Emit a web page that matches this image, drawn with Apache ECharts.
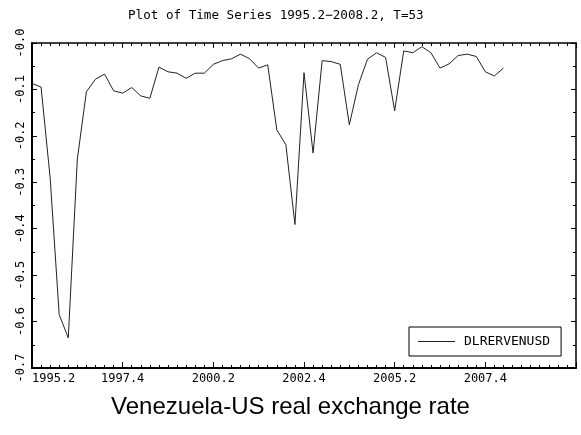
<!DOCTYPE html>
<html>
<head>
<meta charset="utf-8">
<script src="https://cdn.jsdelivr.net/npm/echarts@6/dist/echarts.min.js"></script>
<style>html,body{margin:0;padding:0;background:#fff}#c{width:581px;height:435px}</style>
</head>
<body>
<div id="c"></div>
<script>
// Quarterly series DLRERVENUSD, 1995.2 - 2008.2 (T=53)
const seriesName = 'DLRERVENUSD';
const values = [
  -0.087, -0.095, -0.290, -0.585, -0.635, -0.250, -0.105, -0.078, -0.067, -0.103,
  -0.108, -0.096, -0.114, -0.119, -0.052, -0.062, -0.065, -0.076, -0.065, -0.065,
  -0.046, -0.038, -0.034, -0.024, -0.034, -0.054, -0.047, -0.187, -0.219, -0.391,
  -0.064, -0.237, -0.038, -0.040, -0.046, -0.176, -0.090, -0.035, -0.021, -0.031,
  -0.146, -0.017, -0.021, -0.008, -0.021, -0.054, -0.045, -0.027, -0.024, -0.029,
  -0.062, -0.071, -0.054
];
// labels of every 10th quarter, starting at 1995.2
const xTickLabels = ['1995.2', '1997.4', '2000.2', '2002.4', '2005.2', '2007.4', ''];
const yTickLabels = ['-0.7', '-0.6', '-0.5', '-0.4', '-0.3', '-0.2', '-0.1', '-0.0'];
const titleText = 'Plot of Time Series 1995.2\u22122008.2, T=53';
const captionText = 'Venezuela-US real exchange rate';

const mono = 'DejaVu Sans Mono';
const points = values.map((v, i) => [i, v]);

const chart = echarts.init(document.getElementById('c'), null, {renderer: 'canvas'});
chart.setOption({
  animation: false,
  backgroundColor: '#fff',
  title: [
    {text: titleText, left: 128, top: 9, padding: 0,
     textStyle: {fontFamily: mono, fontSize: 12.6, fontWeight: 'normal', color: '#000'}},
    {text: captionText, left: 'center', top: 390,
     textStyle: {fontFamily: 'Liberation Sans', fontSize: 24, fontWeight: 'normal', color: '#000'}}
  ],
  legend: {
    show: true, left: 409, top: 327, right: 'auto', bottom: 'auto', orient: 'horizontal',
    borderColor: '#000', borderWidth: 1, padding: [7, 11, 7, 9],
    icon: 'rect', itemWidth: 37, itemHeight: 1,
    textStyle: {fontFamily: mono, fontSize: 13, color: '#000', padding: [0, 0, 0, 4], lineHeight: 15},
    itemStyle: {color: '#222'}
  },
  grid: {left: 32, right: 5, top: 43, bottom: 67, containLabel: false},
  xAxis: [
    {type: 'value', min: 0, max: 60, interval: 10, position: 'bottom',
     axisLine: {show: true, onZero: false, lineStyle: {color: '#000', width: 2}},
     axisTick: {show: true, inside: true, length: 6, lineStyle: {color: '#000'}},
     minorTick: {show: true, splitNumber: 10, length: 3, lineStyle: {color: '#000'}},
     splitLine: {show: false},
     axisLabel: {margin: 5, fontFamily: mono, fontSize: 12, color: '#000',
                 alignMinLabel: 'left',
                 formatter: v => xTickLabels[Math.round(v / 10)] || ''}},
    {type: 'value', min: 0, max: 60, interval: 10, position: 'top',
     axisLine: {show: true, onZero: false, lineStyle: {color: '#000', width: 1.5}},
     axisTick: {show: true, inside: true, length: 5, lineStyle: {color: '#000'}},
     minorTick: {show: true, splitNumber: 10, length: 3, lineStyle: {color: '#000'}},
     splitLine: {show: false}, axisLabel: {show: false}}
  ],
  yAxis: [
    {type: 'value', min: -0.7, max: 0, interval: 0.1, position: 'left',
     axisLine: {show: true, onZero: false, lineStyle: {color: '#000', width: 2}},
     axisTick: {show: true, inside: true, length: 5, lineStyle: {color: '#000'}},
     minorTick: {show: true, splitNumber: 2, length: 3, lineStyle: {color: '#000'}},
     splitLine: {show: false},
     axisLabel: {rotate: 90, margin: 5, fontFamily: mono, fontSize: 12, color: '#000',
                 formatter: v => yTickLabels[Math.round((v + 0.7) * 10)]}},
    {type: 'value', min: -0.7, max: 0, interval: 0.1, position: 'right',
     axisLine: {show: true, onZero: false, lineStyle: {color: '#000', width: 1.5}},
     axisTick: {show: true, inside: true, length: 5, lineStyle: {color: '#000'}},
     minorTick: {show: true, splitNumber: 2, length: 3, lineStyle: {color: '#000'}},
     splitLine: {show: false}, axisLabel: {show: false}}
  ],
  series: [{
    name: seriesName, type: 'line', xAxisIndex: 0, yAxisIndex: 0,
    data: points, symbol: 'none', showSymbol: false,
    lineStyle: {color: '#222', width: 1}, itemStyle: {color: '#222'}
  }]
});
</script>
</body>
</html>
